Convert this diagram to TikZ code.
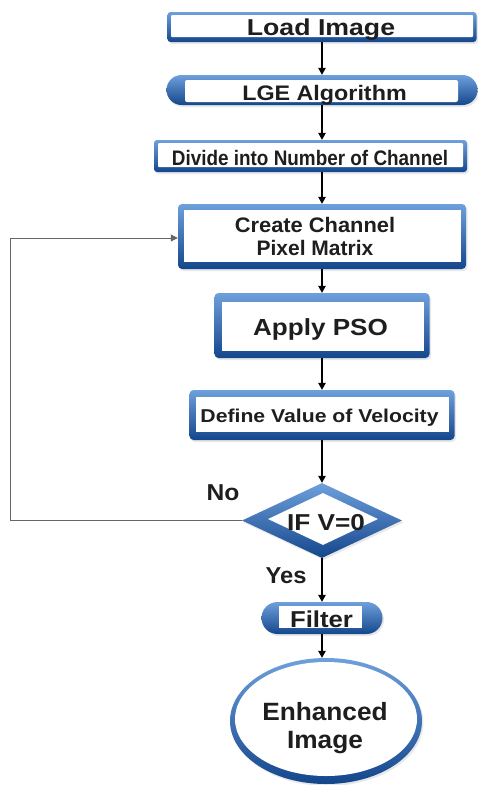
\documentclass[tikz,border=0pt]{standalone}
\usepackage{fontspec}
\setmainfont{Liberation Sans}
\usetikzlibrary{shapes.geometric,arrows.meta,shadows,calc}
\definecolor{bl}{RGB}{110,160,220}
\definecolor{bd}{RGB}{20,70,140}
\definecolor{tx}{RGB}{30,30,30}
\begin{document}
\begin{tikzpicture}[x=1pt,y=-1pt,
  frame/.style={draw=none, top color=bl, bottom color=bd, inner sep=0pt,
    drop shadow={opacity=0.18, shadow xshift=1.5pt, shadow yshift=-2pt}},
  inbox/.style={fill=white, draw=none, inner sep=0pt},
  txt/.style={text=tx, inner sep=0pt, anchor=base},
  arr/.style={draw=black, line width=1.2pt, -{Triangle[length=7pt,width=7.5pt]}},
  fb/.style={draw=black!60, line width=1pt}
]
\useasboundingbox (0,0) rectangle (477,785);

% Load Image
\node[frame, rounded corners=3pt, minimum width=309pt, minimum height=30pt] (load) at (322,27) {};
\node[inbox, rounded corners=1pt, minimum width=302pt, minimum height=22pt] (loadw) at (322,26) {};
\node[txt, font=\bfseries\fontsize{23}{26}\selectfont] (loadl) at (321,35) {\scalebox{1.16}[1]{Load Image}};

% LGE Algorithm
\node[frame, rounded corners=15pt, minimum width=311pt, minimum height=30pt] (lge) at (322,90) {};
\node[inbox, rounded corners=2pt, minimum width=273pt, minimum height=22pt] (lgew) at (321.5,91) {};
\node[txt, font=\bfseries\fontsize{21}{24}\selectfont] (lgel) at (324.5,100) {\scalebox{1.11}[1]{LGE Algorithm}};

% Divide
\node[frame, rounded corners=3pt, minimum width=313pt, minimum height=32pt] (div) at (310.5,156) {};
\node[inbox, rounded corners=1pt, minimum width=305pt, minimum height=24pt] (divw) at (310.5,155) {};
\node[txt, font=\bfseries\fontsize{21}{24}\selectfont] (divl) at (310,165) {\scalebox{0.9}[1]{Divide into Number of Channel}};

% Create Channel
\node[frame, rounded corners=4pt, minimum width=288pt, minimum height=65pt] (cre) at (322,236.5) {};
\node[inbox, minimum width=277pt, minimum height=52pt] (crew) at (322.5,236) {};
\node[txt, font=\bfseries\fontsize{21}{24}\selectfont] (crel1) at (315,232) {\scalebox{1.04}[1]{Create Channel}};
\node[txt, font=\bfseries\fontsize{21}{24}\selectfont] (crel2) at (315,255) {\scalebox{1.0}[1]{Pixel Matrix}};

% Apply PSO
\node[frame, rounded corners=4pt, minimum width=215pt, minimum height=65pt] (pso) at (322,325.5) {};
\node[inbox, minimum width=202pt, minimum height=49pt] (psow) at (323,326.5) {};
\node[txt, font=\bfseries\fontsize{23.3}{26}\selectfont] (psol) at (320.5,335) {\scalebox{1.12}[1]{Apply PSO}};

% Define Value
\node[frame, rounded corners=4pt, minimum width=265pt, minimum height=50pt] (def) at (322,415) {};
\node[inbox, minimum width=253pt, minimum height=35pt] (defw) at (322.5,414.5) {};
\node[txt, font=\bfseries\fontsize{18.6}{22}\selectfont] (defl) at (319.5,422) {\scalebox{1.14}[1]{Define Value of Velocity}};

% Decision
\node[frame, diamond, minimum width=160pt, minimum height=75pt] (dec) at (322,520.5) {};
\node[inbox, diamond, minimum width=110pt, minimum height=52pt] (decw) at (323,519) {};
\node[txt, font=\bfseries\fontsize{23}{26}\selectfont] (decl) at (326,530) {\scalebox{1.14}[1]{IF V=0}};

\node[txt, font=\bfseries\fontsize{23}{26}\selectfont] (no) at (223,500) {\scalebox{1.07}[1]{No}};
\node[txt, font=\bfseries\fontsize{23}{26}\selectfont] (yes) at (286,583) {\scalebox{1.03}[1]{Yes}};

% Filter
\node[frame, rounded corners=16pt, minimum width=121pt, minimum height=32pt] (fil) at (322,618) {};
\node[inbox, minimum width=83pt, minimum height=22pt] (filw) at (320.5,617) {};
\node[txt, font=\bfseries\fontsize{23}{26}\selectfont] (fill) at (321.5,627) {\scalebox{1.12}[1]{Filter}};

% Enhanced Image
\node[frame, ellipse, minimum width=192pt, minimum height=126pt] (enh) at (326,721) {};
\node[inbox, ellipse, minimum width=182pt, minimum height=114pt] (enhw) at (326,719) {};
\node[txt, font=\bfseries\fontsize{25}{28}\selectfont] (enhl1) at (325,720) {\scalebox{1.05}[1]{Enhanced}};
\node[txt, font=\bfseries\fontsize{25}{28}\selectfont] (enhl2) at (325,748) {\scalebox{1.05}[1]{Image}};

% connectors
\draw[arr] (load.south) -- (lge.north);
\draw[arr] (lge.south) -- (lge.south |- div.north);
\draw[arr] (cre.north |- div.south) -- (cre.north);
\draw[arr] (cre.south) -- (pso.north);
\draw[arr] (pso.south) -- (def.north);
\draw[arr] (def.south) -- (dec.north);
\draw[arr] (dec.south) -- (fil.north);
\draw[arr] (fil.south) -- (fil.south |- enh.north);

\coordinate (fbl) at (10,520.5);
\coordinate (fbt) at (10,238);
\draw[fb] (dec.west) -- (fbl) -- (fbt);
\draw[fb, -{Triangle[length=7pt,width=7pt]}, draw=black!60, fill=black] (fbt) -- (fbt -| cre.west);
\end{tikzpicture}
\end{document}
